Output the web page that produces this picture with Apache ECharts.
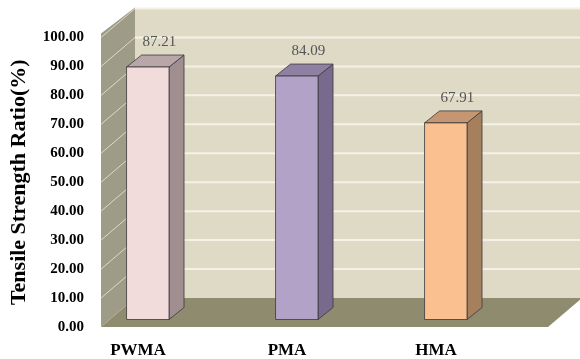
<!DOCTYPE html>
<html>
<head>
<meta charset="utf-8">
<script src="https://cdn.jsdelivr.net/npm/echarts@6/dist/echarts.min.js"></script>
<style>
  html, body { margin: 0; padding: 0; background: #ffffff; }
  #chart { width: 580px; height: 359px; }
</style>
</head>
<body>
<div id="chart"></div>
<script>
// Tensile strength ratio per mixture
const categories = ['PWMA', 'PMA', 'HMA'];
const ratios = [87.21, 84.09, 67.91];
const yMin = 0;
const yMax = 100;
const yStep = 10;

// bar colours: front, side, top
const barFront = ['#F2DCDB', '#B3A2C7', '#FAC090'];
const barSide = ['#A08E90', '#776A8C', '#A67F5D'];
const barTop = ['#B9A6A9', '#8E80A2', '#C49671'];

const SERIF = '"Liberation Serif", "Times New Roman", serif';

// oblique depth of the chart box (pixels)
const DX = 34, DY = -29;
// bar depth placement inside the box
const BAR_DX0 = 9, BAR_DY0 = -7.5, BAR_DX = 15, BAR_DY = -12;

const chart = echarts.init(document.getElementById('chart'), null, { renderer: 'canvas' });

function frameItem(params, api) {
  const cs = params.coordSys;
  const x0 = cs.x, x1 = cs.x + cs.width;
  const yTop = cs.y, yBot = cs.y + cs.height;
  const children = [];
  // back wall
  children.push({ type: 'polygon', shape: { points: [[x0 + DX, yTop + DY], [x1 + DX, yTop + DY], [x1 + DX, yBot + DY], [x0 + DX, yBot + DY]] },
    style: { fill: '#DEDAC6' } });
  // floor
  children.push({ type: 'polygon', shape: { points: [[x0, yBot], [x1, yBot], [x1 + DX, yBot + DY], [x0 + DX, yBot + DY]] },
    style: { fill: '#8F8B6E' } });
  // left wall
  children.push({ type: 'polygon', shape: { points: [[x0, yBot], [x0 + DX, yBot + DY], [x0 + DX, yTop + DY - 1], [x0, yTop - 4]] },
    style: { fill: '#9E9B86' } });
  // gridlines on the walls
  for (let v = yMin + yStep; v <= yMax; v += yStep) {
    const y = api.coord([0, v])[1];
    children.push({ type: 'line', shape: { x1: x0 + DX, y1: y + DY, x2: x1 + DX, y2: y + DY },
      style: { stroke: '#F4F1E7', lineWidth: 2 } });
    children.push({ type: 'line', shape: { x1: x0, y1: y, x2: x0 + DX, y2: y + DY },
      style: { stroke: '#DCDACB', lineWidth: 1 } });
  }
  return { type: 'group', children: children };
}

function barItem(params, api) {
  const i = api.value(0);
  const v = api.value(1);
  const band = api.size([1, 0])[0];
  const c = api.coord([i, v]);
  const base = api.coord([i, 0]);
  const w = band * 0.285;
  const cx = c[0] - band * 0.186;
  const fx0 = cx - w / 2, fx1 = cx + w / 2;
  const yt = c[1] + BAR_DY0, yb = base[1] + BAR_DY0;
  const stroke = { stroke: '#3A3A3A', lineWidth: 0.8 };
  const idx = params.dataIndex;
  return {
    type: 'group',
    children: [
      { type: 'polygon', shape: { points: [[fx1, yt], [fx1 + BAR_DX, yt + BAR_DY], [fx1 + BAR_DX, yb + BAR_DY], [fx1, yb]] },
        style: Object.assign({ fill: barSide[idx] }, stroke) },
      { type: 'polygon', shape: { points: [[fx0, yt], [fx1, yt], [fx1 + BAR_DX, yt + BAR_DY], [fx0 + BAR_DX, yt + BAR_DY]] },
        style: Object.assign({ fill: barTop[idx] }, stroke) },
      { type: 'rect', shape: { x: fx0, y: yt, width: w, height: yb - yt },
        style: Object.assign({ fill: barFront[idx] }, stroke) },
      { type: 'text', x: (fx0 + fx1 + BAR_DX) / 2 + 4, y: yt + BAR_DY - 5,
        style: { text: v.toFixed(2), fill: '#555555', font: '15px ' + SERIF, align: 'center', verticalAlign: 'bottom' } }
    ]
  };
}

chart.setOption({
  animation: false,
  backgroundColor: '#ffffff',
  grid: { left: 100, right: 32, top: 37.5, bottom: 31.5 },
  xAxis: {
    type: 'category',
    data: categories,
    axisLine: { show: false },
    axisTick: { show: false },
    axisLabel: {
      margin: 15,
      padding: [0, 75, 0, 0],
      fontFamily: SERIF, fontWeight: 'bold', fontSize: 17, color: '#000000'
    }
  },
  yAxis: {
    type: 'value',
    min: yMin, max: yMax, interval: yStep,
    name: 'Tensile Strength Ratio(%)',
    nameLocation: 'middle',
    nameGap: 71,
    nameTextStyle: { fontFamily: SERIF, fontWeight: 'bold', fontSize: 22, color: '#000000' },
    axisLine: { show: false },
    axisTick: { show: false },
    splitLine: { show: false },
    axisLabel: {
      margin: 17,
      fontFamily: SERIF, fontWeight: 'bold', fontSize: 15, color: '#000000',
      formatter: function (v) { return v.toFixed(2); }
    }
  },
  series: [
    { type: 'custom', renderItem: frameItem, data: [[0, 0]], z: 1, silent: true, clip: false },
    { type: 'custom', renderItem: barItem, data: ratios.map(function (v, i) { return [i, v]; }), z: 2, clip: false }
  ]
});
</script>
</body>
</html>
